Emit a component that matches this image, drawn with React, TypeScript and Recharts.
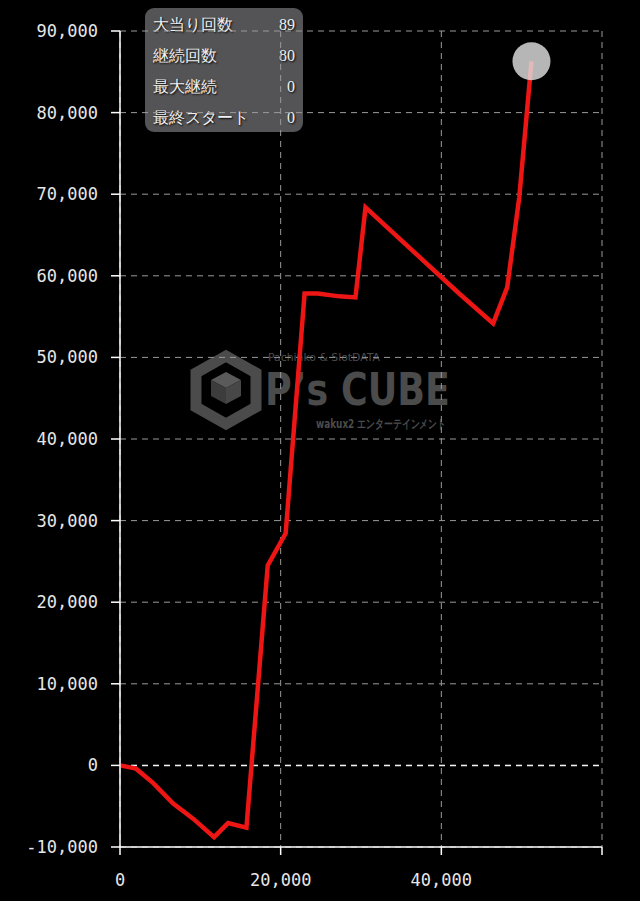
import React from "react";
import { LineChart, Line, XAxis, YAxis, CartesianGrid, ReferenceLine } from "recharts";

// spins (x) and balance (y)
const spins = [0, 1990, 4140, 6620, 9100, 11710, 13450, 15740, 18390, 20620, 22980, 24600, 27330, 29310, 30560, 42250, 46450, 48200, 49700, 51220];
const balance = [0, -400, -2170, -4690, -6530, -8790, -7070, -7630, 24510, 28430, 57840, 57840, 57480, 57350, 68380, 57800, 54170, 58580, 69600, 86300];

const xTicks = [0, 20000, 40000, 60000];
const yTicks = [-10000, 0, 10000, 20000, 30000, 40000, 50000, 60000, 70000, 80000, 90000];

const statLabels = ["大当り回数", "継続回数", "最大継続", "最終スタート"];
const statValues = [89, 80, 0, 0];

const data = spins.map((x, i) => ({ x, y: balance[i] }));

const W = 640;
const H = 901;
const MONO = "'DejaVu Sans Mono', monospace";

const fmt = (v: number) => v.toLocaleString("en-US");

const XTick = ({ x, y, payload }: any) => {
    if (payload.value === 60000) return null;
    return (
        <text x={x} y={y + 29} textAnchor="middle" fill="#e6e6e6" fontFamily={MONO} fontSize={17}>
            {fmt(payload.value)}
        </text>
    );
};

const LastDot = (props: any) => {
    const { cx, cy, index } = props;
    if (index !== data.length - 1) return <g key={index} />;
    return <circle key={index} cx={cx} cy={cy} r={19} fill="rgba(222,222,222,0.82)" />;
};

function Watermark() {
    const c = "#4b4b4b";
    return (
        <svg width={W} height={H} style={{ position: "absolute", left: 0, top: 0 }}>
            <polygon points="226,356 256,373 256,407 226,424 196,407 196,373" fill="none" stroke={c} strokeWidth={11} />
            <polygon points="226,372 241,380 226,388 211,380" fill="#5a5a5a" />
            <polygon points="211,380 226,388 226,404 211,396" fill="#3c3c3c" />
            <polygon points="241,380 226,388 226,404 241,396" fill="#474747" />
            <text x={268} y={361} fill={c} fontFamily="'DejaVu Sans', sans-serif" fontSize={10} textLength={112} lengthAdjust="spacingAndGlyphs">
                Pachinko &amp; SlotDATA
            </text>
            <text x={265} y={405} fill={c} fontFamily="'DejaVu Sans', sans-serif" fontWeight="bold" fontSize={45} textLength={185} lengthAdjust="spacingAndGlyphs">
                P’s CUBE
            </text>
            <text x={316} y={428} fill={c} fontFamily="'DejaVu Sans', sans-serif" fontWeight="bold" fontSize={12} textLength={130} lengthAdjust="spacingAndGlyphs">
                wakux2 エンターテインメント
            </text>
        </svg>
    );
}

function StatsBox() {
    return (
        <div
            style={{
                position: "absolute",
                left: 145,
                top: 8,
                width: 158,
                height: 124,
                borderRadius: 9,
                background: "rgba(96,96,98,0.88)",
                fontFamily: "serif",
                fontSize: 16,
                color: "#f0f0f0",
                textShadow: "1px 1px 2px #000",
            }}
        >
            {statLabels.map((label, i) => (
                <div
                    key={label}
                    style={{
                        position: "absolute",
                        left: 8,
                        right: 8,
                        top: 6 + i * 31,
                        display: "flex",
                        justifyContent: "space-between",
                        lineHeight: "22px",
                    }}
                >
                    <span>{label}</span>
                    <span>{statValues[i]}</span>
                </div>
            ))}
        </div>
    );
}

export default function App() {
    return (
        <div style={{ position: "relative", width: W, height: H, background: "#000" }}>
            <style>{`body{margin:0;background:#000}`}</style>
            <Watermark />
            <StatsBox />
            <div style={{ position: "absolute", left: 0, top: 0 }}>
                <LineChart width={W} height={H} data={data} margin={{ top: 31, right: 38, bottom: 14, left: 10 }}>
                    <CartesianGrid stroke="#9a9a9a" strokeDasharray="6 5" />
                    <XAxis
                        type="number"
                        dataKey="x"
                        domain={[0, 60000]}
                        ticks={xTicks}
                        height={40}
                        tick={<XTick />}
                        tickSize={8}
                        stroke="#ffffff"
                        strokeWidth={1.5}
                    />
                    <YAxis
                        type="number"
                        domain={[-10000, 90000]}
                        ticks={yTicks}
                        width={110}
                        tickSize={9}
                        tickMargin={13}
                        tickFormatter={fmt}
                        tick={{ fill: "#e6e6e6", fontFamily: MONO, fontSize: 17 }}
                        stroke="#ffffff"
                        strokeWidth={1.5}
                    />
                    <ReferenceLine y={0} stroke="#f2f2f2" strokeWidth={1.5} strokeDasharray="6 5" />
                    <Line
                        type="linear"
                        dataKey="y"
                        stroke="#ee1515"
                        strokeWidth={4.5}
                        dot={<LastDot />}
                        activeDot={false}
                        isAnimationActive={false}
                    />
                </LineChart>
            </div>
        </div>
    );
}
